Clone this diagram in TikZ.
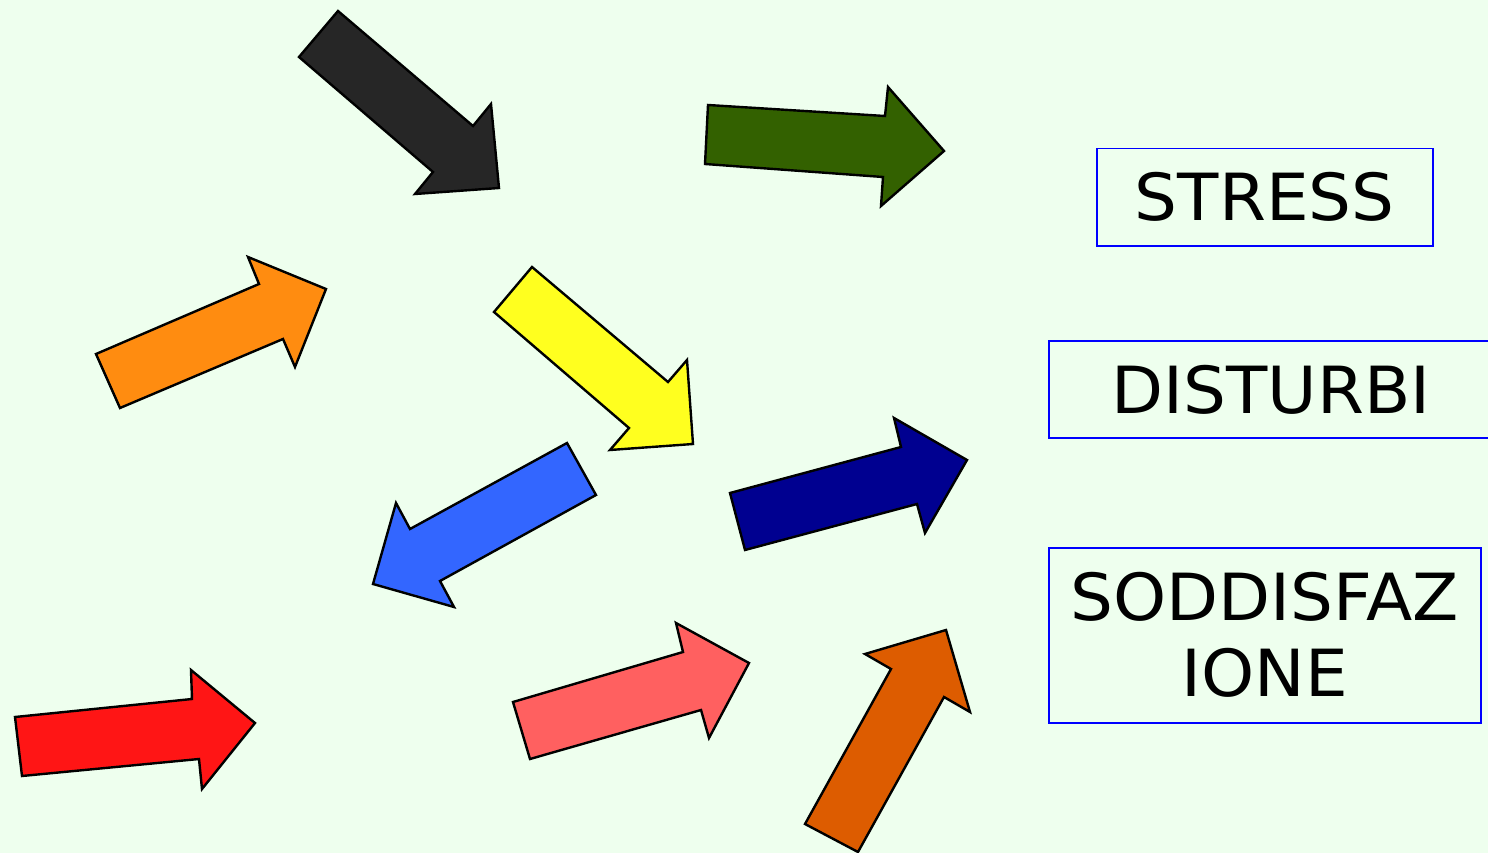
\documentclass[tikz,border=0pt]{standalone}
\usepackage{fontspec}
\setmainfont{DejaVu Sans}[FakeStretch=1.04]
\begin{document}
\begin{tikzpicture}[x=1pt,y=-1pt,
  blockarrow/.style={draw=black,line width=2.4pt,line join=miter},
  labelbox/.style={draw=blue,line width=1.5pt,inner sep=0pt,font=\fontsize{65}{76}\selectfont,align=center,anchor=north west}]
\definecolor{bg}{HTML}{EEFFEE}
\definecolor{cblack}{HTML}{262626}
\definecolor{cgreen}{HTML}{336100}
\definecolor{corange}{HTML}{FF8C10}
\definecolor{cyellow}{HTML}{FFFF1F}
\definecolor{cblue}{HTML}{3366FF}
\definecolor{cnavy}{HTML}{000090}
\definecolor{cred}{HTML}{FF1515}
\definecolor{cpink}{HTML}{FF6060}
\definecolor{cdorange}{HTML}{DD5C00}
\fill[bg] (0,0) rectangle (1488,853);
\useasboundingbox (0,0) rectangle (1488,853);
% arrows
\filldraw[blockarrow,fill=cblack] (338,11) -- (473,126) -- (491,104) -- (499,188) -- (415,194) -- (433,172) -- (299,57) -- cycle;
\filldraw[blockarrow,fill=cgreen] (708,105) -- (885,116) -- (888,87) -- (944,151) -- (881,206) -- (883,177) -- (705,164) -- cycle;
\filldraw[blockarrow,fill=corange] (96,354) -- (259,284) -- (248,257) -- (326,289) -- (295,367) -- (283,339) -- (120,408) -- cycle;
\filldraw[blockarrow,fill=cyellow] (532,267) -- (668,382) -- (687,360) -- (693,444) -- (610,450) -- (629,428) -- (494,312) -- cycle;
\filldraw[blockarrow,fill=cblue] (567,443) -- (596,495) -- (440,581) -- (454,607) -- (373,584) -- (396,503) -- (410,529) -- cycle;
\filldraw[blockarrow,fill=cnavy] (730,493) -- (901,447) -- (894,418) -- (967,460) -- (925,533) -- (917,504) -- (745,550) -- cycle;
\filldraw[blockarrow,fill=cred] (15,717) -- (192,699) -- (191,670) -- (255,723) -- (202,789) -- (199,759) -- (22,776) -- cycle;
\filldraw[blockarrow,fill=cpink] (513,702) -- (683,652) -- (676,623) -- (749,663) -- (709,738) -- (701,710) -- (530,759) -- cycle;
\filldraw[blockarrow,fill=cdorange] (805,824) -- (891,669) -- (865,654) -- (946,630) -- (970,712) -- (944,697) -- (858,852) -- cycle;
% boxes
\node[labelbox,minimum width=336pt,minimum height=97pt] (stress) at (1096,148) {STRESS};
\node[labelbox,minimum width=448pt,minimum height=97pt] (disturbi) at (1048,340) {};
\node (disturbitext) at (1271,390) {\fontsize{65}{76}\selectfont DISTURBI};
\node[labelbox,minimum width=432pt,minimum height=175pt] (sodd) at (1048,547) {SODDISFAZ\\IONE};
\end{tikzpicture}
\end{document}
